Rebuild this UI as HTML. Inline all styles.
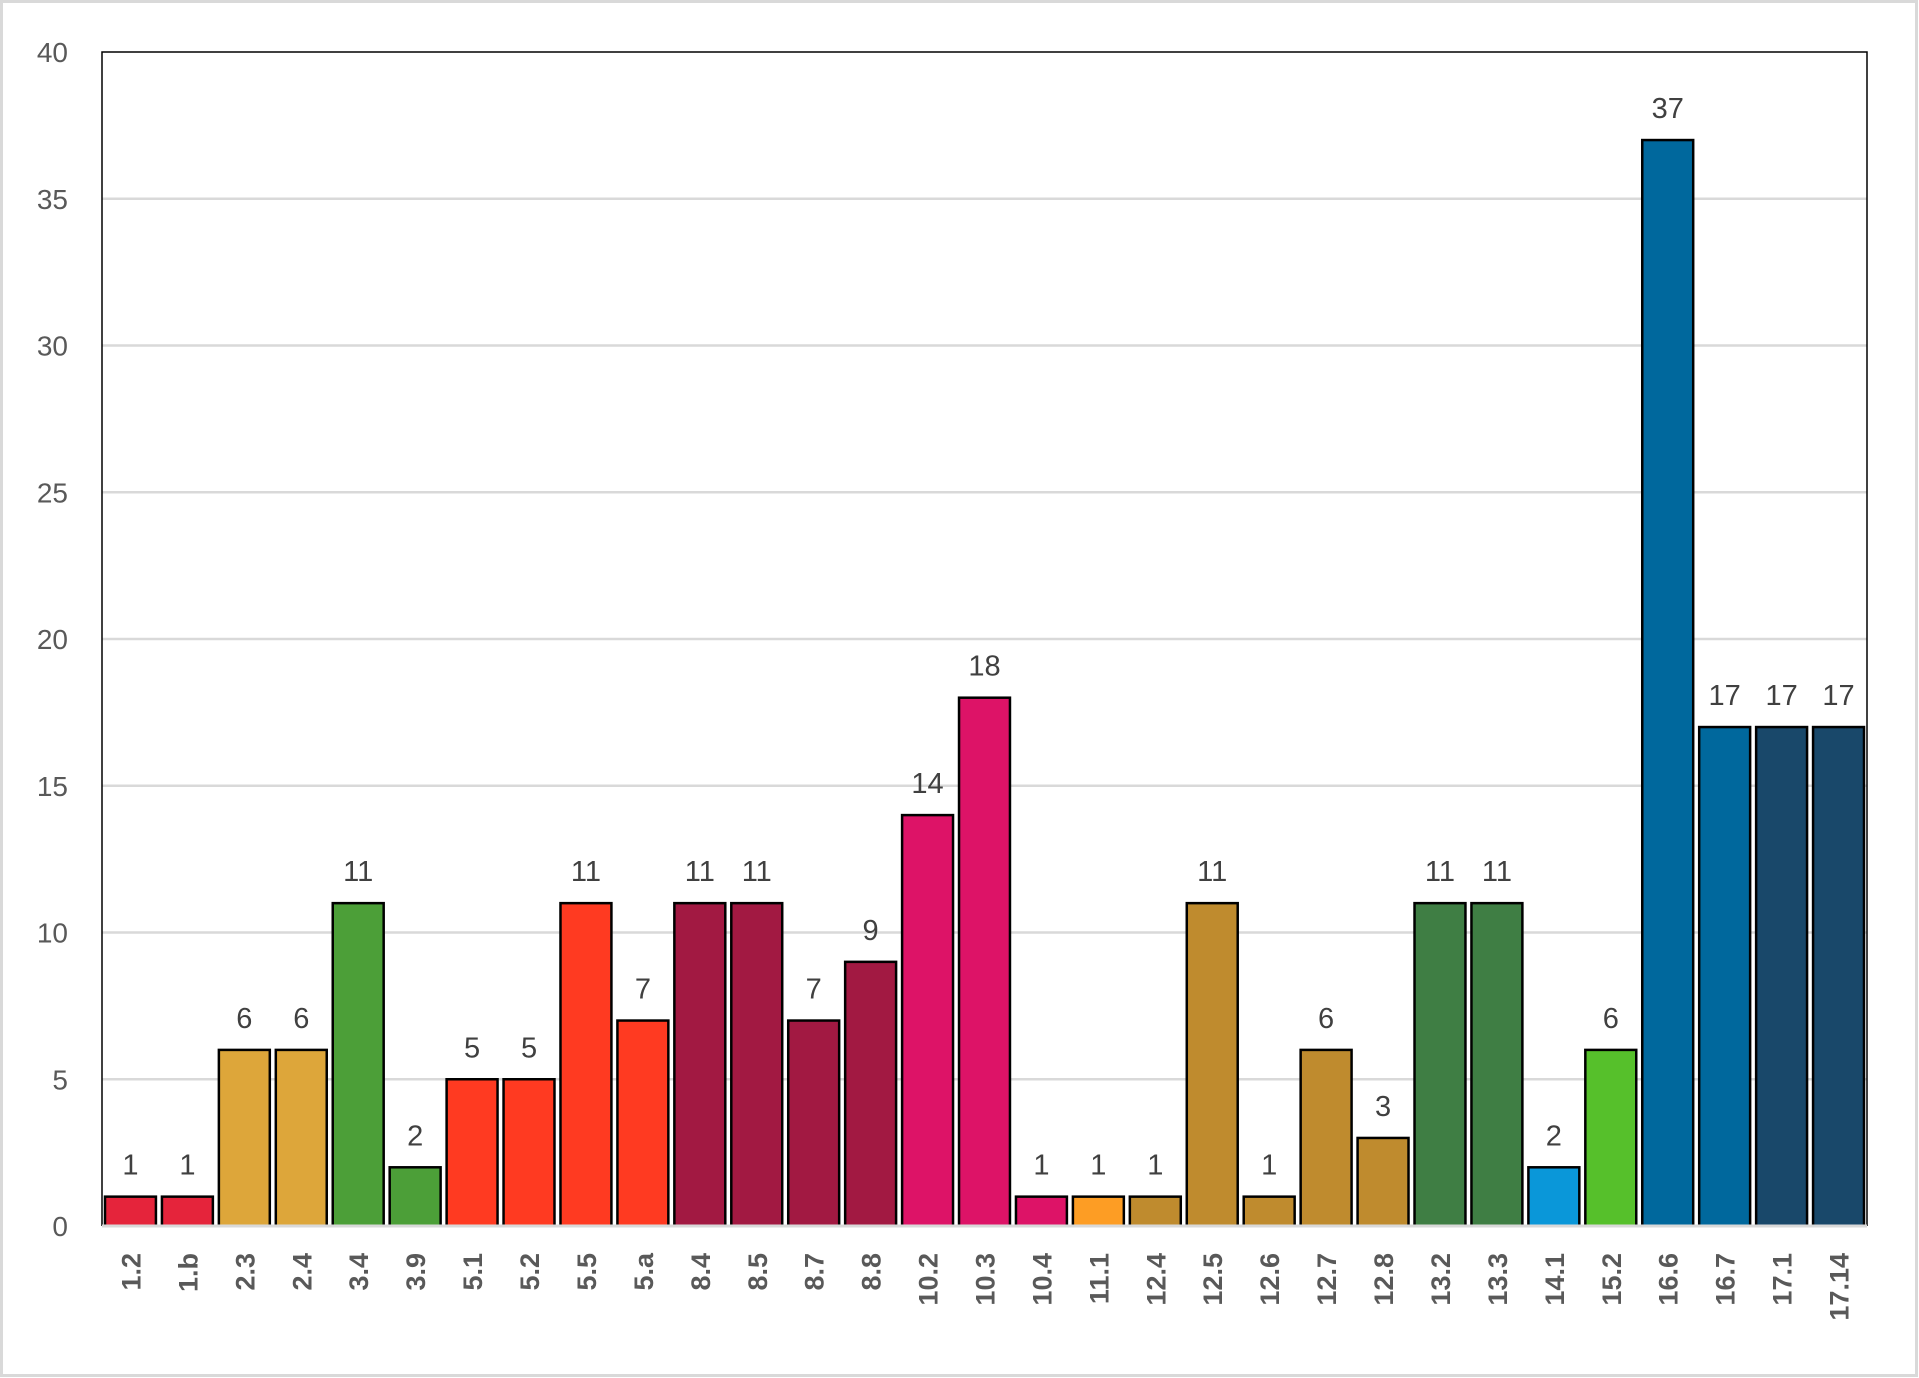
<!DOCTYPE html>
<html><head><meta charset="utf-8"><style>
html,body{margin:0;padding:0;background:#fff}
svg{display:block;font-family:"Liberation Sans",sans-serif}
</style></head><body>
<svg id="chart" width="1919" height="1378">
<rect x="1.5" y="1.5" width="1915" height="1374" fill="#fff" stroke="#d9d9d9" stroke-width="3"/>
<g id="grid"></g><g id="bars"></g><g id="labels"></g>
</svg>
<script>
const categories=["1.2","1.b","2.3","2.4","3.4","3.9","5.1","5.2","5.5","5.a","8.4","8.5","8.7","8.8","10.2","10.3","10.4","11.1","12.4","12.5","12.6","12.7","12.8","13.2","13.3","14.1","15.2","16.6","16.7","17.1","17.14"];
const values=[1,1,6,6,11,2,5,5,11,7,11,11,7,9,14,18,1,1,1,11,1,6,3,11,11,2,6,37,17,17,17];
const colors=["#E5243B","#E5243B","#DDA63A","#DDA63A","#4C9F38","#4C9F38","#FF3A21","#FF3A21","#FF3A21","#FF3A21","#A21942","#A21942","#A21942","#A21942","#DD1367","#DD1367","#DD1367","#FD9D24","#BF8B2E","#BF8B2E","#BF8B2E","#BF8B2E","#BF8B2E","#3F7E44","#3F7E44","#0A97D9","#56C02B","#00689D","#00689D","#19486A","#19486A"];
const yTicks=[0,5,10,15,20,25,30,35,40];
const NS="http://www.w3.org/2000/svg";
const L=102,R=1867,T=52,B=1226,yMax=40;
const y=v=>B-(v/yMax)*(B-T);
const band=(R-L)/categories.length;
const x=i=>L+i*band;
const grid=document.getElementById('grid'),bars=document.getElementById('bars'),labels=document.getElementById('labels');
function mk(tag,attrs,parent){const e=document.createElementNS(NS,tag);for(const k in attrs)e.setAttribute(k,attrs[k]);parent.appendChild(e);return e;}
yTicks.forEach(t=>{
  if(t>0&&t<yMax){const g=mk('line',{x1:L,x2:R,y1:y(t),y2:y(t),stroke:'#d9d9d9','stroke-width':2.5},grid);
  
  }
  const tl=mk('text',{x:68,y:y(t)+10,'text-anchor':'end','font-size':28,fill:'#595959'},labels);
  tl.textContent=t;
  
  
});
const fr=mk('path',{d:`M${L} ${B} V${T} H${R} V${B}`,fill:'none',stroke:'#000','stroke-width':1.5},grid);


categories.forEach((c,i)=>{
  const bw=band-6,bx=x(i)+3;
  const r=mk('rect',{x:bx,y:y(values[i]),width:bw,height:B-y(values[i]),fill:colors[i],stroke:'#000','stroke-width':2.5},bars);
  
  
  const vl=mk('text',{x:bx+bw/2,y:y(values[i])-22,'text-anchor':'middle','font-size':29,fill:'#404040'},labels);
  vl.textContent=values[i];
  
  
  const cx=bx+bw/2+10;
  const cl=mk('text',{x:cx,y:1253,transform:`rotate(-90 ${cx} 1253)`,'text-anchor':'end','font-size':27,'font-weight':'bold',fill:'#595959'},labels);
  cl.textContent=c;
  
  
});
const ax=mk('line',{x1:L,x2:R,y1:B,y2:B,stroke:'#d9d9d9','stroke-width':3},labels);


</script>
</body></html>
